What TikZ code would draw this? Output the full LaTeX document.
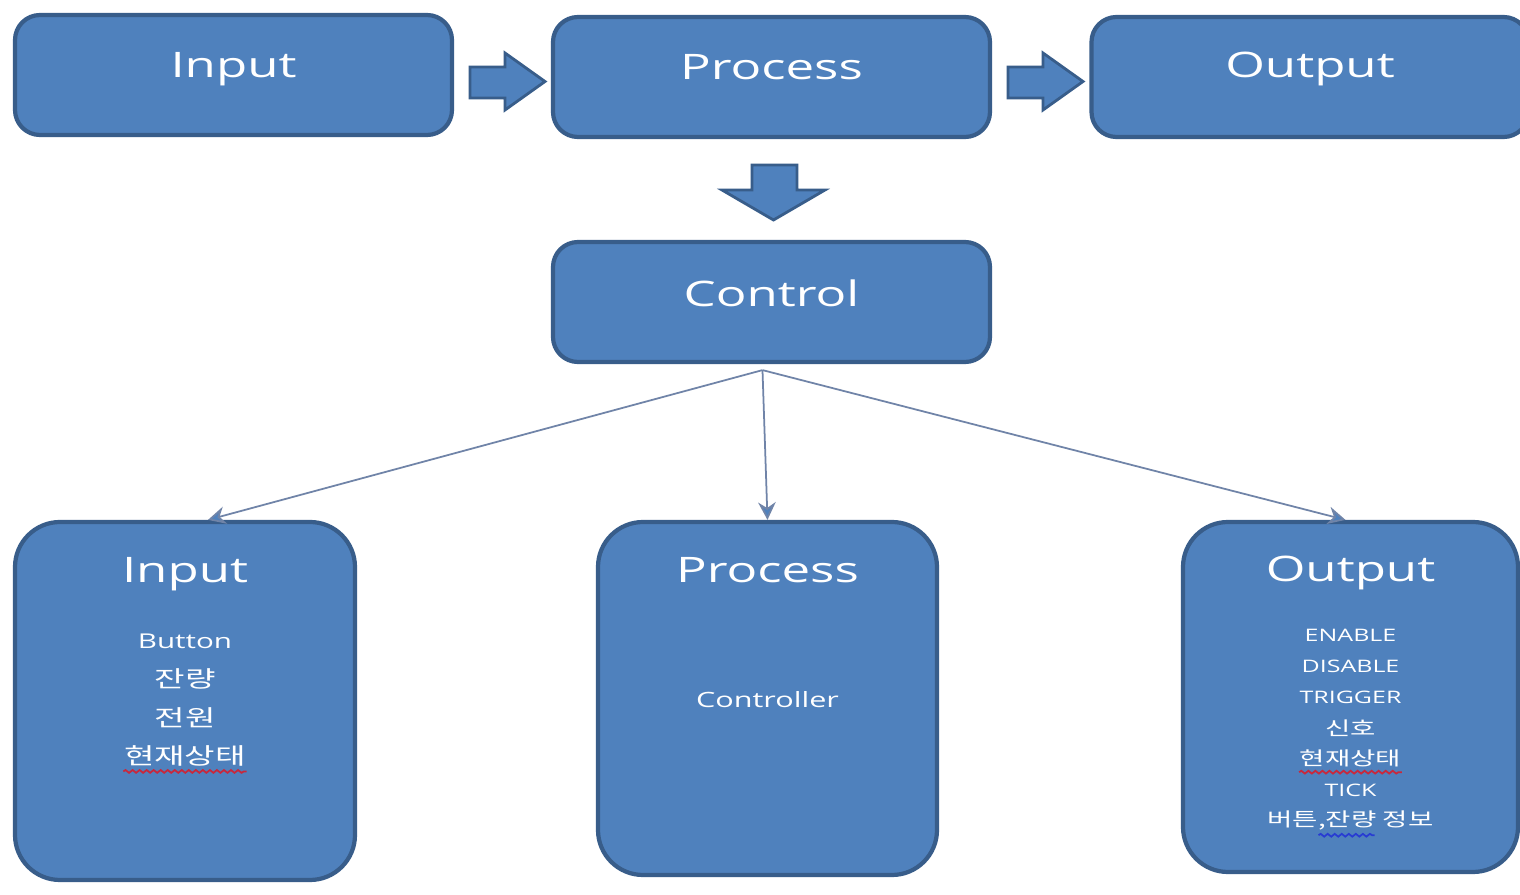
\documentclass[tikz,border=0pt]{standalone}
\usepackage{fontspec}
\setmainfont[FakeStretch=1.45]{Open Sans}
\newfontfamily\krfont[FakeStretch=1.45]{Noto Sans CJK KR}
\usepackage{xcolor}
\usetikzlibrary{arrows.meta,positioning,decorations.pathmorphing}
\definecolor{BoxBlue}{RGB}{79,129,189}
\definecolor{EdgeBlue}{RGB}{56,93,138}
\definecolor{LinkGray}{RGB}{112,132,168}
\definecolor{SpellRed}{RGB}{200,40,60}
\definecolor{GrammarBlue}{RGB}{40,60,210}

\begin{document}
\begin{tikzpicture}[
  box/.style={draw=EdgeBlue,line width=1.2pt,fill=BoxBlue,rounded corners=2.5mm,
    minimum width=4.37cm,minimum height=1.2cm},
  tallbox/.style={draw=EdgeBlue,line width=1.2pt,fill=BoxBlue,rounded corners=4.5mm},
  title/.style={text=white,font=\fontsize{10}{12}\selectfont,inner sep=0pt},
  item/.style={text=white,font=\fontsize{5.8}{7}\selectfont,inner sep=0pt},
  fatarrow/.style={draw=EdgeBlue,line width=0.8pt,fill=BoxBlue},
  link/.style={LinkGray,line width=0.5pt,-{Stealth[length=5pt,width=5pt,fill=BoxBlue]}},
  squiggle/.style={line width=0.5pt,decorate,
    decoration={snake,amplitude=0.4pt,segment length=2pt}}
]
  \path[use as bounding box,fill=white] (0,0) rectangle (15.2,-8.95);

  % top row
  \node[box] (input) at (2.335,-0.75) {};
  \node[box] (process) at (7.715,-0.77) {};
  \node[box] (output) at (13.10,-0.77) {};
  \node[title] (inputT) at ([yshift=-0.56cm]input.north) {Input};
  \node[title] (processT) at ([yshift=-0.52cm]process.north) {Process};
  \node[title] (outputT) at ([yshift=-0.54cm]output.north) {Output};

  % fat arrows between the boxes
  \foreach \x in {4.70,10.08}
    \draw[fatarrow] (\x,-0.67) -- (\x+0.35,-0.67) -- (\x+0.35,-0.53)
      -- (\x+0.75,-0.815) -- (\x+0.35,-1.10) -- (\x+0.35,-0.98) -- (\x,-0.98) -- cycle;
  \draw[fatarrow] (7.52,-1.65) -- (7.97,-1.65) -- (7.97,-1.90) -- (8.25,-1.90)
    -- (7.735,-2.20) -- (7.22,-1.90) -- (7.52,-1.90) -- cycle;

  % control
  \node[box] (control) at (7.715,-3.02) {};
  \node[title] (controlT) at ([yshift=-0.53cm]control.north) {Control};

  % bottom row
  \node[tallbox,minimum width=3.40cm,minimum height=3.58cm] (inBox) at (1.85,-7.01) {};
  \node[tallbox,minimum width=3.39cm,minimum height=3.53cm] (procBox) at (7.675,-6.985) {};
  \node[tallbox,minimum width=3.35cm,minimum height=3.50cm] (outBox) at (13.505,-6.97) {};
  \node[title] (inBoxT) at ([yshift=-0.54cm]inBox.north) {Input};
  \node[title] (procBoxT) at ([yshift=-0.5cm]procBox.north) {Process};
  \node[title] (outBoxT) at ([yshift=-0.53cm]outBox.north) {Output};

  \foreach \txt [count=\i] in {Button,{\krfont\fontsize{6.5}{8}\selectfont 잔량},
      {\krfont\fontsize{6.5}{8}\selectfont 전원},
      {\krfont\fontsize{6.5}{8}\selectfont 현재상태}}
    \node[item] (inItem\i) at ([yshift={-1.21cm-0.385cm*(\i-1)}]inBox.north) {\txt};

  \node[item,font=\fontsize{6}{7}\selectfont] (procItem) at ([yshift=-1.8cm]procBox.north) {Controller};

  \foreach \txt [count=\i] in {ENABLE,DISABLE,TRIGGER,
      {\krfont\fontsize{5.4}{7}\selectfont 신호},
      {\krfont\fontsize{5.4}{7}\selectfont 현재상태},
      TICK,
      {\krfont\fontsize{5.4}{7}\selectfont 버튼,잔량 정보}}
    \node[item,font=\fontsize{4.9}{6}\selectfont] (outItem\i)
      at ([yshift={-1.15cm-0.31cm*(\i-1)}]outBox.north) {\txt};

  % spelling marks
  \draw[squiggle,SpellRed] ([yshift=-0.04cm]inItem4.south west) -- ([yshift=-0.04cm]inItem4.south east);
  \draw[squiggle,SpellRed] ([yshift=-0.04cm]outItem5.south west) -- ([yshift=-0.04cm]outItem5.south east);
  \draw[squiggle,GrammarBlue] ([xshift=-0.32cm,yshift=-0.04cm]outItem7.south)
    -- ([xshift=0.24cm,yshift=-0.04cm]outItem7.south);

  % links from control
  \coordinate (fork) at ([xshift=-0.09cm,yshift=-0.06cm]control.south);
  \draw[link] (fork) -- ([xshift=0.23cm]inBox.north);
  \draw[link] (fork) -- (procBox.north);
  \draw[link] (fork) -- ([xshift=-0.05cm]outBox.north);
\end{tikzpicture}
\end{document}
